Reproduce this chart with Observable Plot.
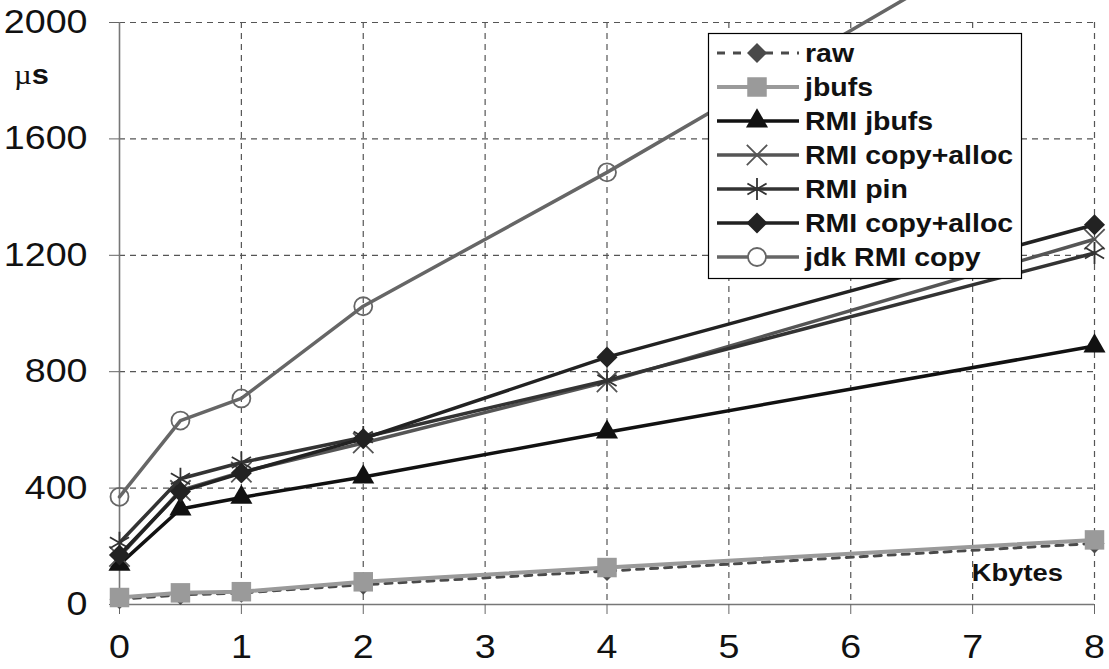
<!DOCTYPE html>
<html><head><meta charset="utf-8">
<script src="https://cdn.jsdelivr.net/npm/d3@7"></script>
<script src="https://cdn.jsdelivr.net/npm/@observablehq/plot@0.6"></script>
<style>
html,body{margin:0;padding:0;background:#fff;}
#chart{position:relative;width:1109px;height:669px;}
#chart svg{overflow:hidden;display:block;}
</style></head><body><div id="chart"></div>
<script>
// ---- data ----
const kbytes = [0, 0.5, 1, 2, 4, 8];
const raw = [18, 33, 40, 68, 115, 210];
const jbufs = [24, 40, 44, 78, 127, 222];
const rmiJbufs = [138, 328, 368, 438, 592, 888];
const rmiCopyAllocX = [165, 392, 455, 555, 765, 1255];
const rmiPin = [212, 432, 488, 575, 770, 1208];
const rmiCopyAllocD = [170, 388, 452, 570, 850, 1305];
const jdkRmiCopy = [370, 632, 708, 1025, 1485, 2460];
const seriesNames = ["raw", "jbufs", "RMI jbufs", "RMI copy+alloc", "RMI pin", "RMI copy+alloc", "jdk RMI copy"];
const seriesValues = [raw, jbufs, rmiJbufs, rmiCopyAllocX, rmiPin, rmiCopyAllocD, jdkRmiCopy];
const xTicks = [0, 1, 2, 3, 4, 5, 6, 7, 8];
const yTicks = [0, 400, 800, 1200, 1600, 2000];
const yUnit = "\u00b5";
const xTitle = "Kbytes";

// ---- styles (separate from data) ----
const styles = [
  {line: "#4a4a4a", dash: "7,7", width: 3, symbol: "diamond2", r: 9, fill: "#4a4a4a", stroke: "none"},
  {line: "#9a9a9a", dash: null, width: 4, symbol: "square", r: 11, fill: "#9a9a9a", stroke: "none"},
  {line: "#111111", dash: null, width: 3.5, symbol: "triangle", r: 8.2, fill: "#111111", stroke: "none"},
  {line: "#555555", dash: null, width: 3.5, symbol: "times", r: 9.3, fill: "none", stroke: "#555555"},
  {line: "#333333", dash: null, width: 3.5, symbol: "asterisk", r: 10.5, fill: "none", stroke: "#333333"},
  {line: "#222222", dash: null, width: 3.5, symbol: "diamond2", r: 9.5, fill: "#222222", stroke: "none"},
  {line: "#666666", dash: null, width: 3.5, symbol: "circle", r: 9, fill: "none", stroke: "#666666"}
];

const table = [];
seriesValues.forEach((vals, si) => vals.forEach((v, i) => table.push({s: si, name: seriesNames[si], x: kbytes[i], y: v})));

const marks = [
  Plot.ruleY(yTicks.filter(d => d > 0), {stroke: "#555", strokeWidth: 1.2, strokeDasharray: "6,5"}),
  Plot.ruleX(xTicks.filter(d => d > 0), {stroke: "#555", strokeWidth: 1.2, strokeDasharray: "6,5"}),
  Plot.ruleY([0], {stroke: "#777", strokeWidth: 1.6}),
  Plot.ruleX([0], {stroke: "#777", strokeWidth: 1.6}),
  Plot.axisX({ticks: xTicks, tickSize: 10, tickPadding: 20, fontSize: 33, stroke: "#666", fill: "#111", tickFormat: d => String(d), label: null}),
  Plot.axisY({ticks: yTicks, tickSize: 10, tickPadding: 22, fontSize: 33, stroke: "#666", fill: "#111", tickFormat: d => String(d), label: null})
];
styles.forEach((st, si) => {
  const data = table.filter(d => d.s === si);
  marks.push(Plot.line(data, {x: "x", y: "y", stroke: st.line, strokeWidth: st.width, strokeDasharray: st.dash || undefined}));
  marks.push(Plot.dot(data, {x: "x", y: "y", symbol: st.symbol, r: st.r, fill: st.fill, stroke: st.stroke, strokeWidth: 1.8}));
});

const chart = Plot.plot({
  width: 1109,
  height: 669,
  marginTop: 22,
  marginBottom: 65,
  marginLeft: 119,
  marginRight: 15,
  x: {domain: [0, 8]},
  y: {domain: [0, 2000]},
  style: {fontFamily: "'Liberation Sans', Arial, sans-serif", background: "#fff", overflow: "hidden"},
  marks
});
document.getElementById("chart").appendChild(chart);

// horizontal stretch of tick labels to match the reference glyph proportions
const SX = 1.14;
chart.querySelectorAll("text").forEach(t => {
  const tr = t.getAttribute("transform");
  if (tr) t.setAttribute("transform", tr + ` scale(${SX},1)`);
  else {
    const x = +t.getAttribute("x") || 0, y = +t.getAttribute("y") || 0;
    t.removeAttribute("x"); t.removeAttribute("y");
    t.setAttribute("transform", `translate(${x},${y}) scale(${SX},1)`);
  }
});

const svg = d3.select(chart);
// unit label
const u = svg.append("text").attr("transform", `translate(14,84) scale(${SX},1)`).attr("text-anchor", "start").attr("font-size", 27).attr("fill", "#111");
u.append("tspan").attr("font-family", "'Liberation Serif', serif").text(yUnit);
u.append("tspan").attr("font-family", "'Liberation Sans', Arial, sans-serif").attr("font-weight", "bold").text("s");
// x title
svg.append("text").attr("transform", `translate(1063,581) scale(${SX},1)`).attr("text-anchor", "end")
  .attr("font-family", "'Liberation Sans', Arial, sans-serif").attr("font-weight", "bold").attr("font-size", 24).attr("fill", "#111").text(xTitle);

// legend
const symMap = {diamond2: d3.symbolDiamond2, square: d3.symbolSquare, triangle: d3.symbolTriangle, times: d3.symbolTimes, asterisk: d3.symbolAsterisk, circle: d3.symbolCircle};
const lg = svg.append("g");
lg.append("rect").attr("x", 708.5).attr("y", 33.5).attr("width", 313).attr("height", 245).attr("fill", "#fff").attr("stroke", "#000").attr("stroke-width", 1.2);
styles.forEach((st, i) => {
  const cy = 53 + i * 34;
  lg.append("line").attr("x1", 717).attr("x2", 799).attr("y1", cy).attr("y2", cy)
    .attr("stroke", st.line).attr("stroke-width", st.width).attr("stroke-dasharray", st.dash ? "8,8" : null);
  lg.append("path").attr("transform", `translate(757,${cy})`)
    .attr("d", d3.symbol(symMap[st.symbol], st.r * st.r * Math.PI)())
    .attr("fill", st.fill === "none" ? (st.symbol === "circle" ? "#fff" : "none") : st.fill)
    .attr("stroke", st.stroke).attr("stroke-width", 1.8);
  lg.append("text").attr("transform", `translate(805,${cy + 9}) scale(${SX},1)`).attr("text-anchor", "start")
    .attr("font-family", "'Liberation Sans', Arial, sans-serif").attr("font-weight", "bold").attr("font-size", 25).attr("fill", "#111")
    .text(seriesNames[i]);
});
</script>
</body></html>
